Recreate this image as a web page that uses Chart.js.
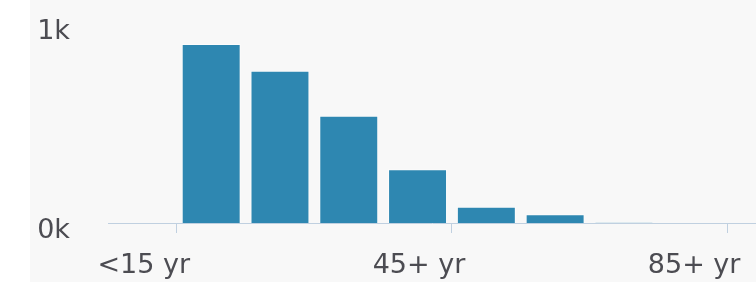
<!DOCTYPE html>
<html>
<head>
<meta charset="utf-8">
<script src="https://cdn.jsdelivr.net/npm/chart.js@4"></script>
<style>
  html, body { margin: 0; padding: 0; background: #ffffff; overflow: hidden; }
  #wrap { position: absolute; left: 30px; top: 0; width: 726px; height: 282px; background: #f8f8f8; }
  canvas { display: block; }
</style>
</head>
<body>
<div id="wrap"><canvas id="c" width="726" height="282"></canvas></div>
<script>
// Age groups (categories) and counts
const ageGroups = ['<15 yr', '15+ yr', '25+ yr', '35+ yr', '45+ yr', '55+ yr', '65+ yr', '75+ yr', '85+ yr'];
const counts    = [0, 900, 765, 539, 270, 82, 44, 2, 0];
// Which categories get an axis label, and the y-axis tick values
const labelledGroups = [0, 4, 8];
const yTicks = [0, 1000];

const points = counts.map((v, i) => ({ x: i, y: v }));

new Chart(document.getElementById('c'), {
  type: 'bar',
  data: {
    datasets: [{
      data: points,
      backgroundColor: '#2e87b1',
      borderColor: 'rgba(255,255,255,0.6)',
      borderWidth: 1,
      borderSkipped: 'start',
      barPercentage: 1,
      categoryPercentage: 0.857
    }]
  },
  options: {
    responsive: false,
    animation: false,
    devicePixelRatio: 1,
    layout: { padding: { top: 24, left: 0, right: 0, bottom: 0 } },
    plugins: { legend: { display: false }, tooltip: { enabled: false } },
    scales: {
      x: {
        type: 'linear',
        offset: false,
        min: -0.5,
        max: 8.92,
        afterBuildTicks: (scale) => {
          scale.ticks = labelledGroups.map(i => ({ value: i + 0.5 }));
        },
        afterFit: (scale) => {
          scale.height = 59;
          scale.paddingLeft = 0;
          scale.paddingRight = 0;
        },
        grid: {
          offset: false,
          drawOnChartArea: false,
          drawTicks: true,
          tickLength: 10,
          color: '#c0d0e0',
          lineWidth: 1
        },
        border: { display: true, color: '#c0d0e0', width: 1 },
        ticks: {
          autoSkip: false,
          maxRotation: 0,
          minRotation: 0,
          labelOffset: -33,
          padding: 17,
          color: '#4c4c52',
          font: { family: 'DejaVu Sans', size: 27 },
          callback: (value) => ageGroups[Math.round(value - 0.5)]
        }
      },
      y: {
        min: 0,
        max: 1000,
        afterBuildTicks: (scale) => {
          scale.ticks = yTicks.map(v => ({ value: v }));
        },
        afterFit: (scale) => {
          scale.width = 78;
          scale.paddingTop = 0;
          scale.paddingBottom = 0;
        },
        grid: { display: false, drawTicks: false },
        border: { display: false },
        ticks: {
          padding: 38,
          labelOffset: 8,
          color: '#4c4c52',
          font: { family: 'DejaVu Sans', size: 27 },
          callback: (value) => (value / 1000) + 'k'
        }
      }
    }
  }
});
</script>
</body>
</html>
